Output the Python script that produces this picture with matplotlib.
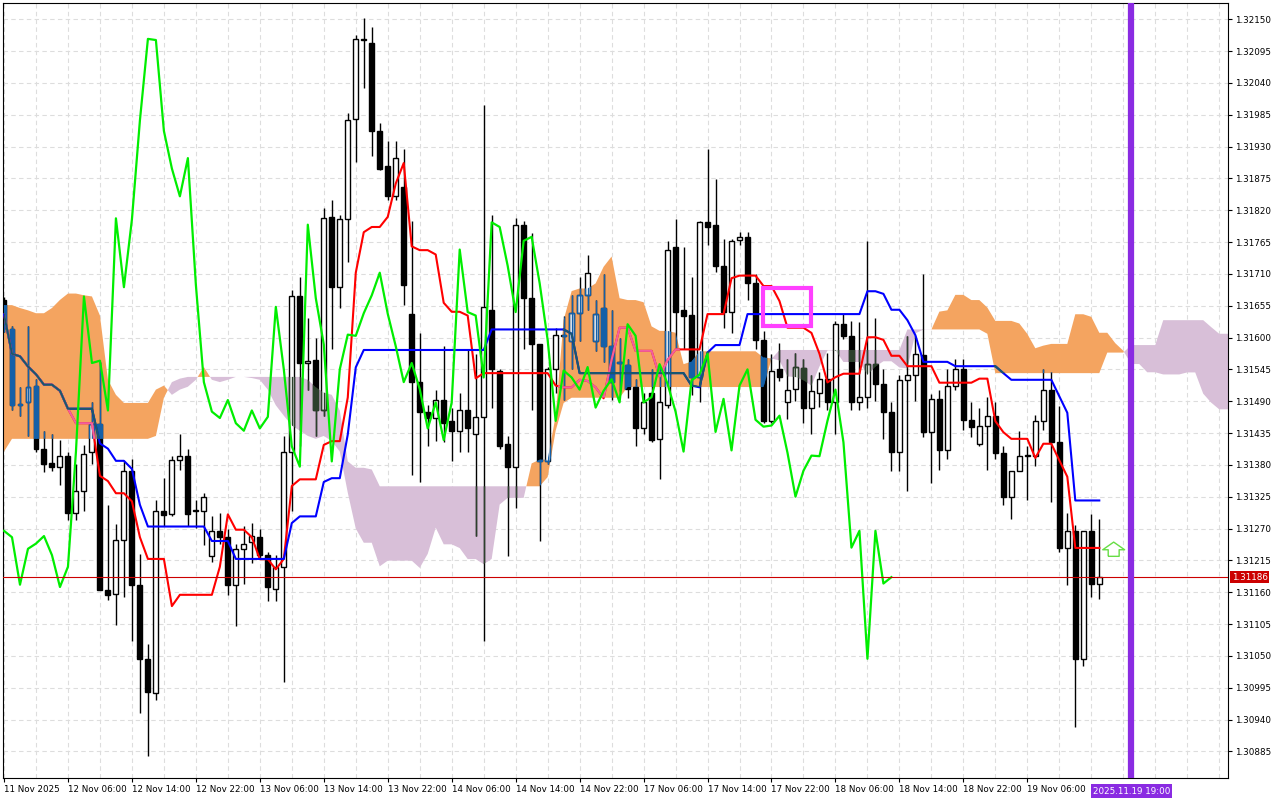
import matplotlib
matplotlib.use('Agg')
import matplotlib.pyplot as plt
from matplotlib.patches import Rectangle
from matplotlib.path import Path
import numpy as np
import pandas as pd

# GBPUSD-like H1 bars, 11 Nov 22:00 .. 19 Nov 15:00
opens = [1.31665,1.31614,1.31485,1.31488,1.31517,1.31408,1.31384,1.31377,1.31395,1.31297,
         1.31334,1.31402,1.31450,1.31164,1.31157,1.31251,1.31370,1.31173,1.31045,1.30985,
         1.31301,1.31295,1.31388,1.31396,1.31300,1.31301,1.31222,1.31266,1.31255,1.31173,
         1.31235,1.31246,1.31255,1.31224,1.31166,1.31204,1.31403,1.31671,1.31556,1.31561,
         1.31474,1.31809,1.31687,1.31804,1.31977,1.32114,1.32109,1.31957,1.31897,1.31844,
         1.31860,1.31640,1.31523,1.31472,1.31461,1.31492,1.31455,1.31439,1.31474,1.31434,
         1.31463,1.31647,1.31543,1.31416,1.31377,1.31795,1.31669,1.31588,1.31386,1.31545,
         1.31605,1.31594,1.31642,1.31673,1.31594,1.31651,1.31585,1.31557,1.31552,1.31514,
         1.31443,1.31505,1.31425,1.31483,1.31756,1.31647,1.31639,1.31531,1.31799,1.31795,
         1.31724,1.31644,1.31768,1.31774,1.31694,1.31596,1.31456,1.31545,1.31488,1.31511,
         1.31548,1.31479,1.31505,1.31528,1.31488,1.31623,1.31603,1.31488,1.31497,1.31554,
         1.31520,1.31472,1.31403,1.31526,1.31536,1.31570,1.31437,1.31494,1.31405,1.31517,
         1.31545,1.31458,1.31416,1.31448,1.31465,1.31401,1.31325,1.31370,1.31395,1.31396,
         1.31456,1.31510,1.31419,1.31237,1.31266,1.31045,1.31266,1.31175]
highs = [1.31670,1.31620,1.31514,1.31620,1.31528,1.31439,1.31434,1.31423,1.31403,1.31381,
         1.31414,1.31488,1.31558,1.31310,1.31278,1.31386,1.31390,1.31226,1.31071,1.31319,
         1.31357,1.31395,1.31434,1.31408,1.31319,1.31332,1.31292,1.31297,1.31270,1.31244,
         1.31275,1.31279,1.31270,1.31230,1.31224,1.31430,1.31682,1.31705,1.31634,1.31600,
         1.31824,1.31837,1.31811,1.31988,1.32123,1.32152,1.32137,1.31970,1.31939,1.31939,
         1.31926,1.31802,1.31607,1.31483,1.31510,1.31585,1.31479,1.31505,1.31580,1.31572,
         1.32001,1.31812,1.31545,1.31430,1.31806,1.31802,1.31780,1.31589,1.31549,1.31616,
         1.31638,1.31673,1.31705,1.31742,1.31665,1.31710,1.31647,1.31600,1.31563,1.31528,
         1.31505,1.31545,1.31549,1.31767,1.31804,1.31756,1.31705,1.31802,1.31926,1.31874,
         1.31771,1.31771,1.31782,1.31782,1.31710,1.31611,1.31572,1.31591,1.31563,1.31574,
         1.31563,1.31536,1.31541,1.31574,1.31629,1.31641,1.31629,1.31626,1.31767,1.31634,
         1.31545,1.31488,1.31535,1.31603,1.31603,1.31710,1.31502,1.31510,1.31545,1.31563,
         1.31563,1.31488,1.31479,1.31497,1.31488,1.31412,1.31361,1.31439,1.31412,1.31467,
         1.31546,1.31541,1.31481,1.31297,1.31276,1.31266,1.31295,1.31287]
lows  = [1.31610,1.31474,1.31465,1.31430,1.31403,1.31367,1.31370,1.31346,1.31284,1.31284,
         1.31301,1.31381,1.31164,1.31146,1.31104,1.31151,1.31076,1.30952,1.30877,1.30974,
         1.31275,1.31292,1.31372,1.31275,1.31271,1.31242,1.31212,1.31244,1.31155,1.31102,
         1.31175,1.31211,1.31217,1.31145,1.31145,1.31005,1.31301,1.31412,1.31510,1.31430,
         1.31465,1.31580,1.31651,1.31731,1.31904,1.32032,1.31913,1.31890,1.31837,1.31837,
         1.31656,1.31363,1.31350,1.31412,1.31421,1.31419,1.31386,1.31403,1.31403,1.31257,
         1.31076,1.31479,1.31408,1.31222,1.31306,1.31580,1.31474,1.31248,1.31381,1.31505,
         1.31492,1.31545,1.31594,1.31647,1.31576,1.31558,1.31492,1.31508,1.31496,1.31412,
         1.31434,1.31419,1.31355,1.31479,1.31580,1.31580,1.31500,1.31488,1.31760,1.31714,
         1.31616,1.31607,1.31760,1.31665,1.31580,1.31452,1.31452,1.31525,1.31459,1.31490,
         1.31452,1.31434,1.31480,1.31474,1.31434,1.31598,1.31474,1.31474,1.31479,1.31490,
         1.31425,1.31370,1.31370,1.31334,1.31490,1.31428,1.31348,1.31372,1.31390,1.31510,
         1.31441,1.31428,1.31412,1.31372,1.31390,1.31310,1.31287,1.31380,1.31319,1.31378,
         1.31440,1.31315,1.31230,1.31173,1.30927,1.31033,1.31151,1.31148]
closes = [1.31616,1.31483,1.31483,1.31514,1.31408,1.31381,1.31377,1.31395,1.31297,1.31334,
          1.31399,1.31450,1.31164,1.31155,1.31251,1.31370,1.31173,1.31045,1.30987,1.31301,
          1.31294,1.31388,1.31396,1.31295,1.31301,1.31324,1.31266,1.31255,1.31173,1.31235,
          1.31244,1.31257,1.31224,1.31169,1.31204,1.31403,1.31671,1.31556,1.31560,1.31474,
          1.31806,1.31687,1.31804,1.31975,1.32116,1.32114,1.31957,1.31892,1.31844,1.31910,
          1.31691,1.31523,1.31472,1.31461,1.31492,1.31452,1.31439,1.31474,1.31443,1.31463,
          1.31653,1.31545,1.31412,1.31377,1.31795,1.31668,1.31588,1.31386,1.31545,1.31605,
          1.31603,1.31642,1.31673,1.31712,1.31641,1.31585,1.31523,1.31556,1.31511,1.31443,
          1.31488,1.31423,1.31488,1.31752,1.31644,1.31638,1.31531,1.31799,1.31791,1.31724,
          1.31644,1.31767,1.31774,1.31694,1.31596,1.31456,1.31543,1.31531,1.31510,1.31549,
          1.31479,1.31508,1.31528,1.31488,1.31623,1.31603,1.31488,1.31497,1.31554,1.31520,
          1.31472,1.31403,1.31526,1.31536,1.31572,1.31437,1.31494,1.31405,1.31517,1.31545,
          1.31458,1.31446,1.31448,1.31465,1.31401,1.31325,1.31370,1.31396,1.31395,1.31456,
          1.31510,1.31419,1.31237,1.31266,1.31045,1.31266,1.31175,1.31186]

# cloud edges that depend on bars before the window
early_span_a = [1.31656,1.31656,1.31651,1.31647,1.31642,1.31642,1.31651,1.31665,1.31676,1.31676,
                1.31673,1.31671,1.31638,1.31527,1.31501,1.31487,1.31487,1.31487,1.31487,1.31510,
                1.31517,1.31501,1.31510,1.31515,1.31527,1.31549,1.31527,1.31523,1.31527,1.31532,
                1.31532,1.31530,1.31527,1.31510,1.31483,1.31465,1.31448,1.31439,1.31430,1.31425,
                1.31430,1.31421,1.31403,1.31332,1.31270]
early_span_b = [1.31403,1.31425,1.31425,1.31425,1.31425,1.31425,1.31425,1.31425,1.31425,1.31425,
                1.31425,1.31425,1.31425,1.31425,1.31425,1.31425,1.31425,1.31425,1.31425,1.31430,
                1.31496,1.31523,1.31529,1.31532,1.31532,1.31532,1.31532,1.31532,1.31532,1.31532,
                1.31532,1.31532,1.31532,1.31532,1.31532,1.31532,1.31532,1.31532,1.31527,1.31514,
                1.31505,1.31501,1.31474,1.31386,1.31375,1.31375,1.31372,1.31343,1.31343,1.31343,
                1.31343,1.31343,1.31343,1.31343,1.31343,1.31343,1.31343,1.31343,1.31343,1.31343,
                1.31343,1.31343,1.31343,1.31343,1.31343,1.31343,1.31343,1.31343,1.31359,1.31439,
                1.31487,1.31496,1.31496,1.31496,1.31496,1.31496,1.31496,1.31496]

tick_bars = [0, 8, 16, 24, 32, 40, 48, 56, 64, 72, 80, 88, 96, 104, 112, 120, 128]
tick_labels = ['11 Nov 2025', '12 Nov 06:00', '12 Nov 14:00', '12 Nov 22:00', '13 Nov 06:00',
               '13 Nov 14:00', '13 Nov 22:00', '14 Nov 06:00', '14 Nov 14:00', '14 Nov 22:00',
               '17 Nov 06:00', '17 Nov 14:00', '17 Nov 22:00', '18 Nov 06:00', '18 Nov 14:00',
               '18 Nov 22:00', '19 Nov 06:00']
last_price = 1.31186
marker_bar = 141
marker_label = '2025.11.19 19:00'

o = np.array(opens); h = np.array(highs); l = np.array(lows); c = np.array(closes)
n = len(c)
idx = np.arange(n)
H = pd.Series(h); L = pd.Series(l)
tenkan = (H.rolling(9, min_periods=1).max() + L.rolling(9, min_periods=1).min()) / 2
kijun = (H.rolling(26, min_periods=1).max() + L.rolling(26, min_periods=1).min()) / 2
span_a = ((tenkan + kijun) / 2).values
span_b = ((H.rolling(52, min_periods=1).max() + L.rolling(52, min_periods=1).min()) / 2).values
cloud_x = np.arange(n + 26)
cloud_a = np.concatenate([[np.nan] * 26, span_a])
cloud_b = np.concatenate([[np.nan] * 26, span_b])
cloud_a[:len(early_span_a)] = early_span_a
cloud_b[:len(early_span_b)] = early_span_b

fig = plt.figure(figsize=(12.8, 8), dpi=100)
ax = fig.add_axes([3/1280, 22/800, 1225/1280, 775/800])
ax.set_xlim(-0.125, 153.1)
ax.set_ylim(1.30839, 1.32178)

yt = [1.30885 + 0.00055*k for k in range(24)]
ax.set_yticks(yt)
ax.set_yticklabels(['%.5f' % v for v in yt])
ax.yaxis.tick_right()
ax.set_xticks(tick_bars)
ax.set_xticklabels(tick_labels, ha='left')
ax.tick_params(axis='both', labelsize=6.3, length=3, pad=2, colors='black')
for v in yt:
    ax.axhline(v, color='#dddddd', lw=0.8, ls=(0, (4, 3)), zorder=0)
for b in range(0, 156, 4):
    ax.axvline(b, color='#dddddd', lw=0.8, ls=(0, (4, 3)), zorder=0)

up = cloud_a >= cloud_b
orange = ax.fill_between(cloud_x, cloud_a, cloud_b, where=up, interpolate=True,
                         color='#f4a460', lw=0, zorder=1)
purple = ax.fill_between(cloud_x, cloud_a, cloud_b, where=~up, interpolate=True,
                         color='#d8bfd8', lw=0, zorder=1)

def draw_candles(black, white_face, edge, z, clip=None):
    arts = []
    arts.append(ax.vlines(idx, l, h, color=edge, lw=1, zorder=z))
    bull = c >= o
    bot = np.minimum(o, c)
    hgt = np.maximum(np.abs(c - o), 0.000012)
    arts.append(ax.bar(idx[bull], hgt[bull], bottom=bot[bull], width=0.62,
                       facecolor=white_face, edgecolor=edge, lw=1, zorder=z))
    arts.append(ax.bar(idx[~bull], hgt[~bull], bottom=bot[~bull], width=0.62,
                       facecolor=black, edgecolor=black, lw=1, zorder=z))
    if clip is not None:
        for a in arts:
            items = a.patches if hasattr(a, 'patches') else [a]
            for it in items:
                it.set_clip_path(clip, ax.transData)

def region_path(coll):
    paths = coll.get_paths()
    return Path.make_compound_path(*paths) if paths else None

orange_path = region_path(orange)
purple_path = region_path(purple)

draw_candles('black', 'white', 'black', 2)
if orange_path is not None:
    draw_candles('#1560a8', 'none', '#1560a8', 3, orange_path)
if purple_path is not None:
    draw_candles('#2c402c', 'none', '#2c402c', 3, purple_path)

ax.plot(idx, tenkan, color='red', lw=1.5, zorder=4)
ax.plot(idx, kijun, color='blue', lw=1.5, zorder=4)
if orange_path is not None:
    t1, = ax.plot(idx, tenkan, color='#f060a0', lw=1.5, zorder=4.5)
    k1, = ax.plot(idx, kijun, color='#1a5a6a', lw=1.5, zorder=4.5)
    t1.set_clip_path(orange_path, ax.transData)
    k1.set_clip_path(orange_path, ax.transData)

ax.plot(idx[26:] - 26, c[26:], color='#00ee00', lw=1.6, zorder=5)

ax.axhline(last_price, color='#cc0000', lw=0.8, zorder=5)
ax.axvline(marker_bar, color='#8a2be2', lw=4.5, zorder=6)
ax.add_patch(Rectangle((94.9, 1.31620), 6.1, 0.00065, fill=False,
                       edgecolor='#ff40ff', lw=3, zorder=7))

arrow = [(-0.5, 0), (0.5, 0), (0.5, 0.6), (1, 0.6), (0, 1.3), (-1, 0.6), (-0.5, 0.6), (-0.5, 0)]
ax.scatter([138.8], [1.31222], marker=arrow, s=420, facecolor='none',
           edgecolor='#66dd44', lw=1, zorder=7)

ax.text(1.003, last_price, '%.5f' % last_price, transform=ax.get_yaxis_transform(),
        fontsize=6.3, color='white', va='center', ha='left', zorder=8,
        bbox=dict(boxstyle='square,pad=0.2', fc='#cc0000', ec='none'), clip_on=False)
ax.text(marker_bar - 4.8, -0.011, marker_label, transform=ax.get_xaxis_transform(),
        fontsize=6.3, color='white', va='top', ha='left',
        bbox=dict(boxstyle='square,pad=0.25', fc='#8a2be2', ec='none'), clip_on=False)

for s in ax.spines.values():
    s.set_color('black')
    s.set_linewidth(0.8)

fig.savefig('out.png', dpi=100)
